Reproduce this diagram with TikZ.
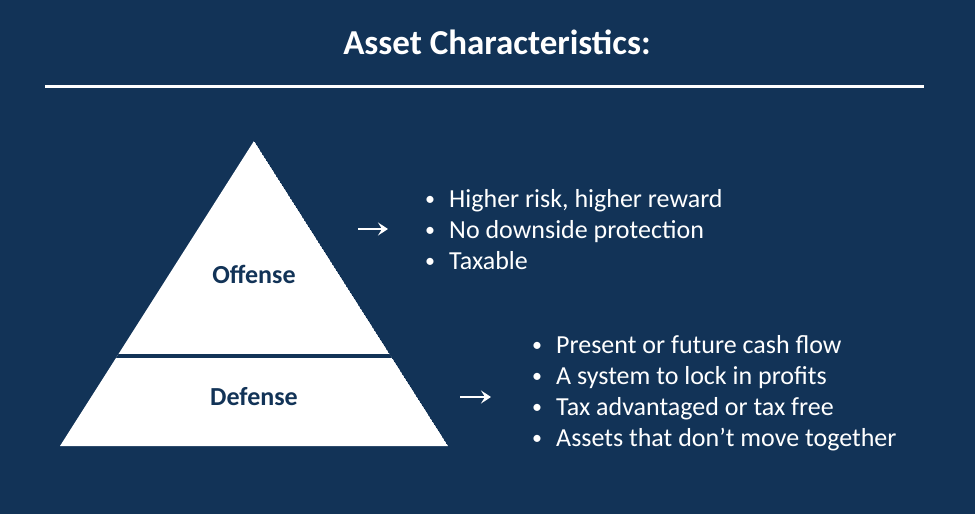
\documentclass[tikz,border=0pt]{standalone}
\usepackage{fontspec}
\setmainfont{Carlito}
\usetikzlibrary{arrows.meta}
\definecolor{navy}{RGB}{18,51,87}
\tikzset{
  bul/.style={text=white, font=\fontsize{26}{30}\selectfont, anchor=base west, inner sep=0pt},
  dot/.style={text=white, font=\fontsize{20}{24}\selectfont, anchor=base, inner sep=0pt},
  lvl/.style={text=navy, font=\bfseries\fontsize{26}{30}\selectfont, inner sep=0pt},
  pointer/.style={white, line width=1.8pt, -{Stealth[length=10pt,width=13pt,inset=4pt]}}
}
\begin{document}
\begin{tikzpicture}[x=1pt,y=-1pt]
\fill[navy] (0,0) rectangle (975,514);
\useasboundingbox (0,0) rectangle (975,514);
% title
\node[text=white, font=\bfseries\fontsize{35}{40}\selectfont, inner sep=0pt] (title) at (497,42) {Asset Characteristics:};
\draw[white, line width=3pt] (45,86) -- (924,86);
% pyramid
\begin{scope}
\clip (254,141) -- (448,446) -- (60,446) -- cycle;
\fill[white] (254,141) -- (448,446) -- (60,446) -- cycle;
\draw[navy, line width=3.5pt] (50,356) -- (460,356);
\end{scope}
\node[lvl] (off) at (254,274) {Offense};
\node[lvl] (def) at (254,397) {Defense};
% arrows
\coordinate (a1s) at (358,229);
\coordinate (a1e) at (388,229);
\coordinate (a2s) at (460,397);
\coordinate (a2e) at (491,397);
\draw[pointer] (a1s) -- (a1e);
\draw[pointer] (a2s) -- (a2e);
% first list
\node[dot] (d1) at (430,205) {•};
\node[bul] (t1) at (449,207) {Higher risk, higher reward};
\node[dot] (d2) at (430,236) {•};
\node[bul] (t2) at (449,238) {No downside protection};
\node[dot] (d3) at (430,267) {•};
\node[bul] (t3) at (449,269) {Taxable};
% second list
\node[dot] (e1) at (537,351) {•};
\node[bul] (u1) at (556,353) {Present or future cash flow};
\node[dot] (e2) at (537,382) {•};
\node[bul] (u2) at (556,384) {A system to lock in profits};
\node[dot] (e3) at (537,413) {•};
\node[bul] (u3) at (556,415) {Tax advantaged or tax free};
\node[dot] (e4) at (537,444) {•};
\node[bul] (u4) at (556,446) {Assets that don’t move together};
\end{tikzpicture}
\end{document}
